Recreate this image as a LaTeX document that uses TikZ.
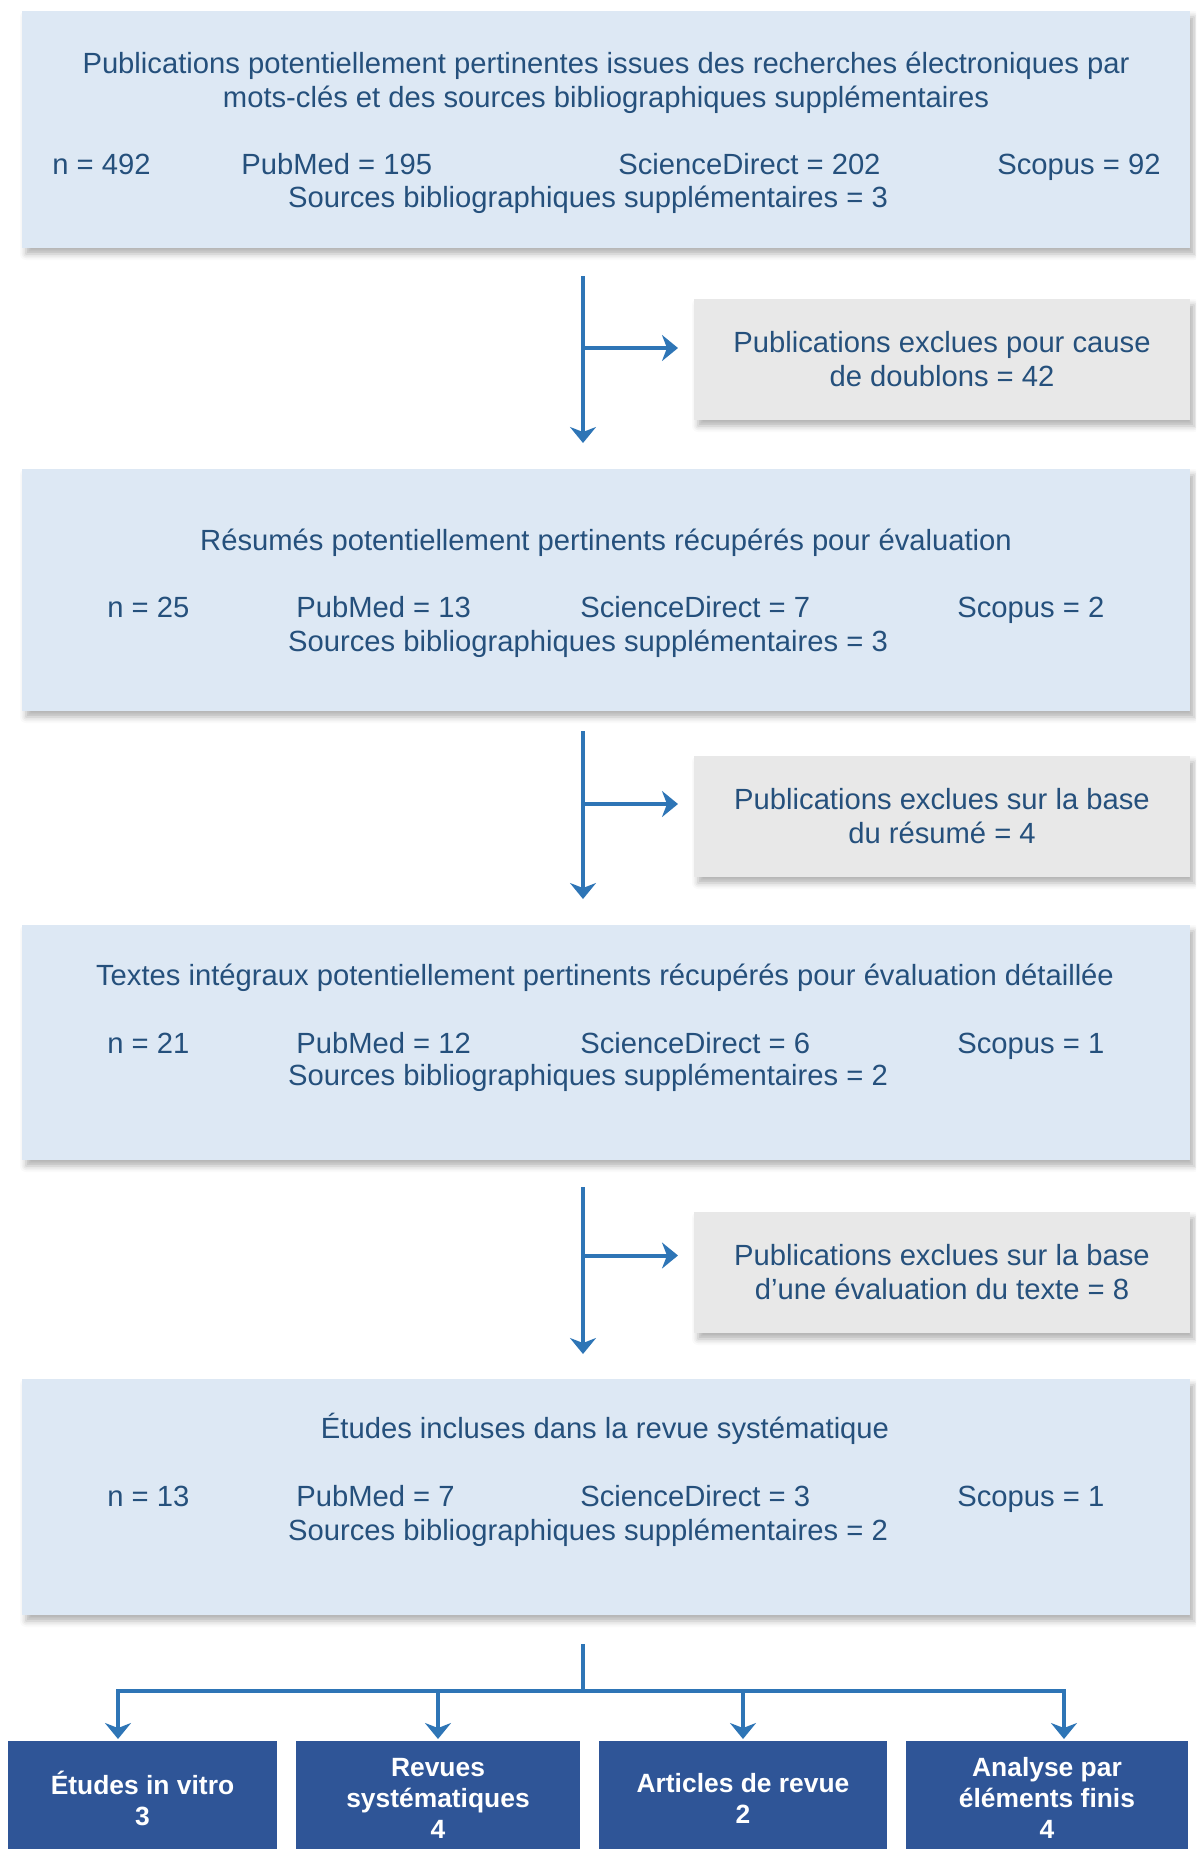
\documentclass[tikz,border=0pt]{standalone}
\usepackage{fontspec}
\setmainfont{Liberation Sans}
\usetikzlibrary{arrows.meta,positioning,shadows.blur}

\definecolor{boxblue}{HTML}{DDE8F4}
\definecolor{exgrey}{HTML}{E8E8E8}
\definecolor{txtblue}{HTML}{25507C}
\definecolor{arrowblue}{HTML}{2E75B6}
\definecolor{darkblue}{HTML}{2F5597}

\newcommand{\bodyfont}{\fontsize{14.6}{17}\selectfont}
\newcommand{\outfont}{\fontsize{13.2}{15.5}\selectfont\bfseries}

\begin{document}
\begin{tikzpicture}[x=0.5pt,y=-0.5pt,
    softshadow/.style={blur shadow={shadow xshift=2pt,shadow yshift=-3pt,
                       shadow blur radius=3pt,shadow opacity=30}},
    stage/.style={rectangle,fill=boxblue,minimum width=584pt,inner sep=0pt,
                  outer sep=0pt,softshadow},
    excl/.style={rectangle,fill=exgrey,minimum width=248pt,minimum height=60.5pt,
                 inner sep=0pt,outer sep=0pt,align=center,text=txtblue,
                 font=\bodyfont,softshadow},
    outcome/.style={rectangle,fill=darkblue,minimum height=57pt,inner sep=0pt,
                    outer sep=0pt,text=white,font=\outfont,align=center},
    txt/.style={anchor=base west,inner sep=0pt,text=txtblue,font=\bodyfont},
    ctxt/.style={txt,anchor=base,align=center},
    trunk/.style={draw=arrowblue,line width=2pt},
    flow/.style={trunk,-{Stealth[length=8pt,width=13pt,inset=2.5pt]}}]

	\clip (0,0) rectangle (1196,1849);

	\node[stage,minimum height=118.5pt]				(search)	at (606,129.5)	{};
	\node[stage,minimum height=121pt,below=110.5pt of search]	(abstracts)		{};
	\node[stage,minimum height=117.5pt,below=107pt of abstracts]	(fulltext)		{};
	\node[stage,minimum height=118pt,below=109.5pt of fulltext]	(included)		{};

	\node[excl,below=25.5pt of search.south east,anchor=north east]		(dup)
		{Publications exclues pour cause\\de doublons = 42};
	\node[excl,below=22.5pt of abstracts.south east,anchor=north east]	(exabs)
		{Publications exclues sur la base\\du résumé = 4};
	\node[excl,below=26pt of fulltext.south east,anchor=north east]		(extxt)
		{Publications exclues sur la base\\d’une évaluation du texte = 8};

	\node[ctxt]	(ti1)	at (606,107)	{Publications potentiellement pertinentes issues des recherches électroniques par\\mots-clés et des sources bibliographiques supplémentaires};
	\node[txt]	(n1)	at (52,174)	{n = 492};
	\node[txt]	(pm1)	at (241,174)	{PubMed = 195};
	\node[txt]	(sd1)	at (618,174)	{ScienceDirect = 202};
	\node[txt]	(sc1)	at (997,174)	{Scopus = 92};
	\node[ctxt]	(src1)	at (588,207)	{Sources bibliographiques supplémentaires = 3};

	\node[ctxt]	(ti2)	at (606,550)	{Résumés potentiellement pertinents récupérés pour évaluation};
	\node[txt]	(n2)	at (107,617)	{n = 25};
	\node[txt]	(pm2)	at (296,617)	{PubMed = 13};
	\node[txt]	(sd2)	at (580,617)	{ScienceDirect = 7};
	\node[txt]	(sc2)	at (957,617)	{Scopus = 2};
	\node[ctxt]	(src2)	at (588,651)	{Sources bibliographiques supplémentaires = 3};

	\node[ctxt]	(ti3)	at (605,985)	{Textes intégraux potentiellement pertinents récupérés pour évaluation détaillée};
	\node[txt]	(n3)	at (107,1053)	{n = 21};
	\node[txt]	(pm3)	at (296,1053)	{PubMed = 12};
	\node[txt]	(sd3)	at (580,1053)	{ScienceDirect = 6};
	\node[txt]	(sc3)	at (957,1053)	{Scopus = 1};
	\node[ctxt]	(src3)	at (588,1085)	{Sources bibliographiques supplémentaires = 2};

	\node[ctxt]	(ti4)	at (605,1438)	{Études incluses dans la revue systématique};
	\node[txt]	(n4)	at (107,1506)	{n = 13};
	\node[txt]	(pm4)	at (296,1506)	{PubMed = 7};
	\node[txt]	(sd4)	at (580,1506)	{ScienceDirect = 3};
	\node[txt]	(sc4)	at (957,1506)	{Scopus = 1};
	\node[ctxt]	(src4)	at (588,1540)	{Sources bibliographiques supplémentaires = 2};

	\node[outcome,minimum width=134.5pt]	(invitro)	at (142.5,1798)		{Études in vitro\\3};
	\node[outcome,minimum width=142pt]	(sysrev)	[right=9.5pt of invitro]	{Revues\\systématiques\\4};
	\node[outcome,minimum width=144pt]	(revart)	[right=9.5pt of sysrev]		{Articles de revue\\2};
	\node[outcome,minimum width=141pt]	(fea)		[right=9.5pt of revart]		{Analyse par\\éléments finis\\4};

	\draw[flow]	([xshift=-11.5pt,yshift=-14pt]search.south) -- ([xshift=-11.5pt,yshift=13pt]abstracts.north);
	\draw[flow]	([xshift=-11.5pt,yshift=-14pt]search.south) |- ([xshift=-8pt,yshift=5.75pt]dup.west);
	\draw[flow]	([xshift=-11.5pt,yshift=-10pt]abstracts.south) -- ([xshift=-11.5pt,yshift=13pt]fulltext.north);
	\draw[flow]	([xshift=-11.5pt,yshift=-10pt]abstracts.south) |- ([xshift=-8pt,yshift=6.25pt]exabs.west);
	\draw[flow]	([xshift=-11.5pt,yshift=-13.5pt]fulltext.south) -- ([xshift=-11.5pt,yshift=12.5pt]included.north);
	\draw[flow]	([xshift=-11.5pt,yshift=-13.5pt]fulltext.south) |- ([xshift=-8pt,yshift=8.5pt]extxt.west);

	\coordinate (split) at ([xshift=-11.5pt,yshift=-38pt]included.south);
	\draw[trunk]	([xshift=-11.5pt,yshift=-14.5pt]included.south) -- (split);
	\draw[flow]	(split) -| ([xshift=-12.25pt,yshift=1pt]invitro.north);
	\draw[flow]	(split) -| ([yshift=1pt]sysrev.north);
	\draw[flow]	(split) -| ([yshift=1pt]revart.north);
	\draw[flow]	(split) -| ([xshift=8.5pt,yshift=1pt]fea.north);
\end{tikzpicture}
\end{document}
